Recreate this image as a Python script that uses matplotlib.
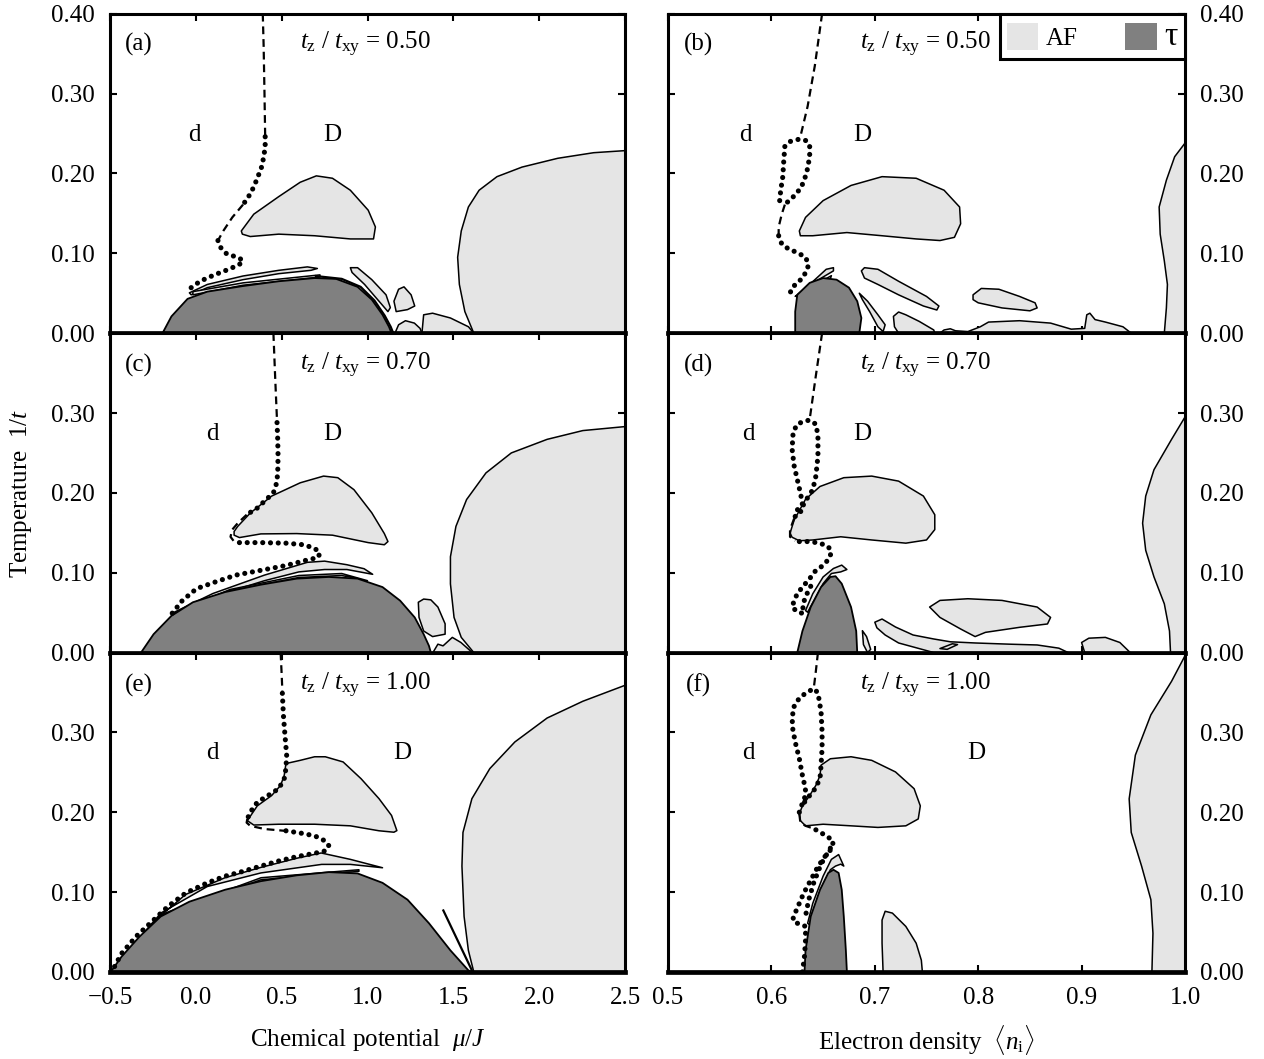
'''
Phase diagrams: AF and tau regions vs chemical potential (left) and electron density (right)
'''
import matplotlib
matplotlib.use("Agg")
import matplotlib.pyplot as plt
from matplotlib.patches import Patch
import numpy as np

plt.rcParams['font.family'] = ['Liberation Serif', 'DejaVu Serif']
plt.rcParams['mathtext.fontset'] = 'custom'
plt.rcParams['mathtext.rm'] = 'Liberation Serif'
plt.rcParams['mathtext.it'] = 'Liberation Serif:italic'

AF_COLOR = '#e5e5e5'
TAU_COLOR = '#808080'
FS = 18

ratios = ['0.50', '0.70', '1.00']
panel_tags = [['(a)', '(b)'], ['(c)', '(d)'], ['(e)', '(f)']]
mu_ticks = [-0.5, 0.0, 0.5, 1.0, 1.5, 2.0, 2.5]
mu_labels = ['\u22120.5', '0.0', '0.5', '1.0', '1.5', '2.0', '2.5']
n_ticks = [0.5, 0.6, 0.7, 0.8, 0.9, 1.0]
n_labels = ['0.5', '0.6', '0.7', '0.8', '0.9', '1.0']
T_ticks = [0.0, 0.1, 0.2, 0.3, 0.4]
T_labels = ['0.00', '0.10', '0.20', '0.30', '0.40']

# ---------------- panel (a) : mu, tz/txy = 0.50
a_dash = [[(0.39, 0.40), (0.395, 0.36), (0.40, 0.30), (0.404, 0.246)],
          [(0.275, 0.161), (0.2125, 0.145), (0.16, 0.128), (0.129, 0.116)]]
a_dots = [[(0.404, 0.246), (0.404, 0.234), (0.396, 0.221), (0.383, 0.208), (0.369, 0.2),
           (0.3375, 0.183), (0.306, 0.1705), (0.275, 0.161)],
          [(0.129, 0.116), (0.146, 0.107), (0.181, 0.099), (0.244, 0.095), (0.275, 0.091),
           (0.254, 0.086), (0.192, 0.08), (0.108, 0.073), (0.025, 0.065), (-0.027, 0.057),
           (-0.042, 0.048)]]
a_tau = [(-0.194, 0), (-0.142, 0.021), (-0.048, 0.043), (0.067, 0.052), (0.275, 0.059),
         (0.483, 0.065), (0.692, 0.069), (0.817, 0.068), (0.942, 0.058), (1.025, 0.042),
         (1.0875, 0.023), (1.125, 0.008), (1.14, 0)]
a_af = [
    [(0.265, 0.128), (0.3375, 0.149), (0.483, 0.171), (0.608, 0.189), (0.702, 0.197),
     (0.796, 0.194), (0.9, 0.179), (1.004, 0.154), (1.046, 0.133), (1.035, 0.118),
     (0.9, 0.118), (0.692, 0.122), (0.483, 0.124), (0.317, 0.121), (0.271, 0.124)],
    [(-0.0375, 0.0505), (0.067, 0.061), (0.275, 0.0716), (0.483, 0.0787), (0.65, 0.083),
     (0.708, 0.081), (0.671, 0.0787), (0.483, 0.0745), (0.275, 0.067), (0.067, 0.057),
     (-0.027, 0.048)],
    [(-0.017, 0.052), (0.275, 0.063), (0.723, 0.073), (0.723, 0.0703), (0.275, 0.06),
     (-0.017, 0.048)],
    [(0.9, 0.082), (0.942, 0.082), (1.025, 0.067), (1.108, 0.048), (1.133, 0.032),
     (1.119, 0.027), (1.067, 0.04), (0.983, 0.061), (0.91, 0.076)],
    [(1.181, 0.055), (1.2125, 0.058), (1.254, 0.048), (1.275, 0.034), (1.233, 0.0295),
     (1.167, 0.027), (1.154, 0.04)],
    [(1.16, 0.0), (1.181, 0.0105), (1.221, 0.0156), (1.273, 0.0126), (1.306, 0.006), (1.317, 0.0)],
    [(1.317, 0.0), (1.327, 0.023), (1.379, 0.025), (1.483, 0.019), (1.588, 0.008), (1.619, 0.0)],
    [(1.619, 0.0), (1.567, 0.027), (1.535, 0.061), (1.525, 0.095), (1.546, 0.128),
     (1.5875, 0.158), (1.65, 0.179), (1.754, 0.196), (1.9, 0.208), (2.108, 0.219),
     (2.317, 0.226), (2.5, 0.2286), (2.5, 0.0)],
]
a_lines = [[(0.70, 0.0715), (0.85, 0.068), (0.96, 0.058), (1.04, 0.041), (1.10, 0.022),
            (1.135, 0.008), (1.15, 0.0)]]

# ---------------- panel (b) : n, tz/txy = 0.50
b_dash = [[(0.649, 0.40), (0.642, 0.335), (0.635, 0.284), (0.628, 0.246)],
          [(0.613, 0.161), (0.61, 0.149), (0.607, 0.133), (0.607, 0.122)]]
b_dots = [[(0.608, 0.166), (0.609, 0.179), (0.611, 0.196), (0.612, 0.217), (0.613, 0.234),
           (0.618, 0.24), (0.627, 0.243), (0.634, 0.241), (0.637, 0.234), (0.637, 0.221),
           (0.634, 0.2), (0.629, 0.183), (0.623, 0.173), (0.617, 0.166), (0.613, 0.161)],
          [(0.607, 0.122), (0.61, 0.1116), (0.617, 0.105), (0.625, 0.101), (0.633, 0.095),
           (0.636, 0.086), (0.634, 0.078), (0.63, 0.069), (0.625, 0.063), (0.62, 0.057),
           (0.618, 0.05)]]
b_tau = [(0.623, 0), (0.623, 0.027), (0.625, 0.048), (0.637, 0.063), (0.65, 0.069),
         (0.663, 0.067), (0.675, 0.057), (0.683, 0.04), (0.687, 0.019), (0.685, 0)]
b_af = [
    [(0.623, 0.046), (0.637, 0.061), (0.653, 0.08), (0.66, 0.082), (0.66, 0.078),
     (0.643, 0.065), (0.627, 0.048)],
    [(0.625, 0.043), (0.64, 0.059), (0.658, 0.072), (0.657, 0.068), (0.642, 0.055), (0.627, 0.042)],
    [(0.627, 0.128), (0.633, 0.145), (0.65, 0.166), (0.677, 0.185), (0.707, 0.196),
     (0.74, 0.194), (0.767, 0.179), (0.782, 0.158), (0.783, 0.137), (0.777, 0.12),
     (0.763, 0.116), (0.74, 0.118), (0.707, 0.122), (0.673, 0.126), (0.64, 0.122), (0.628, 0.122)],
    [(0.687, 0.078), (0.69, 0.082), (0.703, 0.08), (0.723, 0.065), (0.75, 0.046),
     (0.762, 0.034), (0.76, 0.029), (0.747, 0.034), (0.723, 0.048), (0.703, 0.061), (0.69, 0.069)],
    [(0.685, 0.05), (0.693, 0.04), (0.703, 0.023), (0.71, 0.0105), (0.708, 0.002),
     (0.703, 0.008), (0.695, 0.027), (0.688, 0.042)],
    [(0.718, 0.021), (0.723, 0.0265), (0.73, 0.023), (0.743, 0.0147), (0.757, 0.004),
     (0.758, 0), (0.723, 0), (0.719, 0.008)],
    [(0.795, 0.048), (0.803, 0.056), (0.82, 0.055), (0.84, 0.046), (0.855, 0.038),
     (0.857, 0.0316), (0.85, 0.028), (0.823, 0.0316), (0.8, 0.038), (0.795, 0.042)],
    [(0.763, 0), (0.767, 0.004), (0.773, 0.0055), (0.778, 0.003), (0.79, 0.002), (0.802, 0.008),
     (0.81, 0.0139), (0.84, 0.0156), (0.87, 0.0126), (0.89, 0.005), (0.903, 0.006),
     (0.905, 0.023), (0.908, 0.025), (0.913, 0.017), (0.923, 0.0139), (0.94, 0.008), (0.948, 0)],
    [(1.0, 0.238), (0.99, 0.221), (0.982, 0.1916), (0.975, 0.158), (0.976, 0.124),
     (0.98, 0.0905), (0.983, 0.061), (0.982, 0.0316), (0.98, 0), (1.0, 0)],
]
b_lines = []

# ---------------- panel (c) : mu, tz/txy = 0.70
c_dash = [[(0.452, 0.40), (0.4625, 0.343), (0.473, 0.29)],
          [(0.296, 0.1726), (0.244, 0.162), (0.2125, 0.154), (0.202, 0.145), (0.223, 0.139),
           (0.254, 0.1377)]]
c_dots = [[(0.473, 0.288), (0.477, 0.267), (0.479, 0.246), (0.477, 0.225), (0.471, 0.2126),
           (0.452, 0.2), (0.41, 0.1916), (0.358, 0.181), (0.296, 0.1726)],
          [(0.254, 0.1377), (0.379, 0.1377), (0.525, 0.137), (0.629, 0.135), (0.692, 0.1305),
           (0.723, 0.125), (0.7125, 0.119), (0.65, 0.116), (0.525, 0.109), (0.379, 0.103),
           (0.233, 0.097), (0.108, 0.088), (0.004, 0.08), (-0.079, 0.065), (-0.142, 0.048)]]
c_tau = [(-0.319, 0), (-0.246, 0.023), (-0.142, 0.046), (-0.017, 0.063), (0.171, 0.0758),
         (0.379, 0.085), (0.5875, 0.0926), (0.775, 0.0947), (0.942, 0.0926), (1.0875, 0.082),
         (1.19, 0.065), (1.275, 0.044), (1.327, 0.023), (1.358, 0.0084), (1.369, 0)]
c_af = [
    [(-0.14, 0.049), (0.1, 0.074), (0.4, 0.097), (0.65, 0.113), (0.75, 0.1145), (0.88, 0.11),
     (0.98, 0.105), (1.03, 0.098), (0.98, 0.1), (0.88, 0.104), (0.75, 0.104), (0.6, 0.101),
     (0.4, 0.09), (0.1, 0.07), (-0.14, 0.047)],
    [(-0.12, 0.05), (0.2, 0.079), (0.6, 0.0965), (0.85, 0.099), (1.0, 0.09), (0.85, 0.0965),
     (0.6, 0.094), (0.2, 0.077), (-0.12, 0.048)],
    [(0.223, 0.1516), (0.244, 0.158), (0.317, 0.1747), (0.442, 0.196), (0.608, 0.2126),
     (0.744, 0.221), (0.827, 0.219), (0.921, 0.204), (1.025, 0.175), (1.098, 0.149),
     (1.119, 0.139), (1.098, 0.135), (1.004, 0.1377), (0.796, 0.147), (0.5875, 0.149),
     (0.379, 0.1486), (0.254, 0.144), (0.223, 0.147)],
    [(1.296, 0.063), (1.327, 0.067), (1.369, 0.066), (1.41, 0.057), (1.452, 0.036),
     (1.452, 0.023), (1.379, 0.02), (1.327, 0.027), (1.3, 0.044)],
    [(1.381, 0), (1.41, 0.0105), (1.44, 0.0084), (1.494, 0.019), (1.544, 0.0126),
     (1.6, 0.002), (1.619, 0)],
    [(1.619, 0), (1.546, 0.019), (1.504, 0.044), (1.483, 0.086), (1.483, 0.12), (1.515, 0.158),
     (1.577, 0.1916), (1.69, 0.225), (1.8375, 0.25), (2.046, 0.267), (2.254, 0.278),
     (2.5, 0.283), (2.5, 0)],
]
c_lines = []

# ---------------- panel (d) : n, tz/txy = 0.70
d_dash = [[(0.649, 0.40), (0.643, 0.347), (0.637, 0.292)],
          [(0.622, 0.168), (0.618, 0.154), (0.618, 0.145), (0.623, 0.14)]]
d_dots = [[(0.623, 0.1705), (0.628, 0.1747), (0.63, 0.187), (0.628, 0.2), (0.625, 0.2168),
           (0.622, 0.2337), (0.62, 0.2547), (0.621, 0.276), (0.625, 0.286), (0.632, 0.29),
           (0.637, 0.291), (0.643, 0.286), (0.645, 0.2716), (0.645, 0.246), (0.643, 0.221),
           (0.64, 0.204), (0.635, 0.194), (0.63, 0.183), (0.623, 0.177)],
          [(0.627, 0.139), (0.637, 0.139), (0.647, 0.137), (0.655, 0.1326), (0.658, 0.126),
           (0.656, 0.118), (0.65, 0.109), (0.643, 0.103), (0.637, 0.0926), (0.63, 0.082),
           (0.625, 0.0737), (0.622, 0.065), (0.62, 0.057), (0.625, 0.051), (0.633, 0.048)],
          [(0.638, 0.083), (0.633, 0.07), (0.63, 0.058), (0.632, 0.05)]]
d_tau = [(0.625, 0), (0.63, 0.027), (0.638, 0.057), (0.648, 0.082), (0.657, 0.0947),
         (0.662, 0.0956), (0.668, 0.0863), (0.677, 0.057), (0.682, 0.027), (0.683, 0)]
d_af = [
    [(0.633, 0.0526), (0.64, 0.0737), (0.65, 0.0947), (0.66, 0.1053), (0.668, 0.1095),
     (0.673, 0.104), (0.667, 0.101), (0.658, 0.099), (0.65, 0.0863), (0.642, 0.067), (0.635, 0.0505)],
    [(0.618, 0.1495), (0.622, 0.166), (0.633, 0.192), (0.647, 0.208), (0.67, 0.219),
     (0.697, 0.221), (0.723, 0.2147), (0.747, 0.196), (0.758, 0.1726), (0.758, 0.154),
     (0.75, 0.141), (0.73, 0.137), (0.697, 0.141), (0.667, 0.145), (0.64, 0.141),
     (0.627, 0.14), (0.62, 0.1444)],
    [(0.7, 0.038), (0.707, 0.042), (0.72, 0.032), (0.737, 0.022), (0.757, 0.017),
     (0.773, 0.0135), (0.797, 0.012), (0.83, 0.0105), (0.857, 0.0095), (0.878, 0.0055),
     (0.887, 0), (0.757, 0), (0.74, 0.006), (0.723, 0.012), (0.71, 0.022), (0.702, 0.031)],
    [(0.763, 0.005), (0.775, 0.011), (0.78, 0.01), (0.77, 0.004)],
    [(0.688, 0.0274), (0.692, 0.02), (0.696, 0.004), (0.693, 0), (0.689, 0.01)],
    [(0.753, 0.057), (0.763, 0.0653), (0.79, 0.0674), (0.823, 0.0653), (0.857, 0.057),
     (0.87, 0.044), (0.867, 0.0358), (0.84, 0.0316), (0.807, 0.0253), (0.797, 0.02),
     (0.783, 0.0295), (0.763, 0.044)],
    [(0.903, 0), (0.9, 0.0126), (0.907, 0.018), (0.923, 0.019), (0.937, 0.0126), (0.947, 0)],
    [(1.0, 0.295), (0.987, 0.267), (0.97, 0.229), (0.962, 0.196), (0.959, 0.162),
     (0.962, 0.128), (0.97, 0.0947), (0.98, 0.061), (0.985, 0.027), (0.986, 0), (1.0, 0)],
]
d_lines = []

# ---------------- panel (e) : mu, tz/txy = 1.00
e_dash = [[(0.494, 0.40), (0.5, 0.373), (0.504, 0.352)],
          [(0.3, 0.1916), (0.296, 0.187), (0.317, 0.183), (0.4, 0.179), (0.515, 0.1768)]]
e_dots = [[(0.504, 0.349), (0.51, 0.322), (0.519, 0.297), (0.529, 0.2716), (0.525, 0.255),
           (0.515, 0.242), (0.483, 0.2295), (0.421, 0.221), (0.358, 0.2126), (0.317, 0.2),
           (0.3, 0.1916)],
          [(0.525, 0.1768), (0.608, 0.174), (0.692, 0.1705), (0.754, 0.164), (0.775, 0.158),
           (0.754, 0.1516), (0.692, 0.1486), (0.5875, 0.1444), (0.483, 0.139), (0.379, 0.1326),
           (0.275, 0.126), (0.171, 0.12), (0.067, 0.1116), (-0.058, 0.099), (-0.1625, 0.082),
           (-0.246, 0.065), (-0.35, 0.044), (-0.433, 0.023), (-0.485, 0.002)]]
e_tau = [(-0.496, 0), (-0.433, 0.019), (-0.329, 0.044), (-0.204, 0.0695), (-0.0375, 0.088),
         (0.171, 0.103), (0.379, 0.1137), (0.5875, 0.121), (0.775, 0.125), (0.942, 0.1234),
         (1.0875, 0.1116), (1.233, 0.0905), (1.358, 0.061), (1.483, 0.027), (1.5875, 0.002),
         (1.608, 0)]
e_af = [
    [(-0.48, 0.004), (-0.25, 0.062), (-0.06, 0.097), (0.17, 0.118), (0.38, 0.131),
     (0.59, 0.1425), (0.73, 0.149), (0.9, 0.141), (1.0875, 0.1305), (0.9, 0.1347),
     (0.733, 0.1347), (0.379, 0.124), (0.067, 0.107), (-0.204, 0.0737), (-0.48, 0.002)],
    [(-0.2, 0.072), (0.38, 0.118), (0.95, 0.128), (0.95, 0.126), (0.38, 0.1155), (-0.2, 0.0705)],
    [(0.525, 0.261), (0.608, 0.265), (0.692, 0.2695), (0.754, 0.2695), (0.858, 0.263),
     (0.9625, 0.242), (1.067, 0.217), (1.14, 0.196), (1.171, 0.177), (1.154, 0.175),
     (1.067, 0.1768), (0.9, 0.183), (0.692, 0.185), (0.483, 0.185), (0.3375, 0.184),
     (0.3, 0.1895), (0.358, 0.208), (0.442, 0.221), (0.494, 0.2337), (0.515, 0.2463)],
    [(1.619, 0), (1.5875, 0.027), (1.5625, 0.0695), (1.55, 0.1326), (1.556, 0.1747),
     (1.608, 0.217), (1.7125, 0.2547), (1.858, 0.288), (2.046, 0.318), (2.254, 0.339),
     (2.5, 0.359), (2.5, 0)],
]
e_lines = [[(1.4417, 0.077), (1.608, 0.002)]]

# ---------------- panel (f) : n, tz/txy = 1.00
f_dash = [[(0.645, 0.40), (0.643, 0.377), (0.641, 0.3558)],
          [(0.627, 0.198), (0.628, 0.187), (0.633, 0.183), (0.642, 0.179)]]
f_dots = [[(0.627, 0.2), (0.629, 0.208), (0.632, 0.2168), (0.633, 0.229), (0.63, 0.246),
           (0.627, 0.267), (0.623, 0.288), (0.62, 0.309), (0.621, 0.3305), (0.627, 0.343),
           (0.633, 0.349), (0.641, 0.355), (0.645, 0.3495), (0.648, 0.326), (0.649, 0.301),
           (0.649, 0.28), (0.648, 0.259), (0.647, 0.242), (0.642, 0.229), (0.637, 0.221),
           (0.632, 0.2126)],
          [(0.643, 0.178), (0.653, 0.1705), (0.66, 0.164), (0.658, 0.154), (0.652, 0.145),
           (0.645, 0.132), (0.638, 0.115), (0.631, 0.098), (0.625, 0.08), (0.621, 0.068),
           (0.622, 0.062), (0.628, 0.06), (0.633, 0.057), (0.633, 0.04), (0.632, 0.02), (0.63, 0.0)],
          [(0.657, 0.155), (0.648, 0.135), (0.641, 0.112), (0.636, 0.09), (0.633, 0.07)]]
f_tau = [(0.632, 0), (0.633, 0.027), (0.638, 0.0695), (0.647, 0.103), (0.655, 0.124),
         (0.66, 0.128), (0.665, 0.124), (0.668, 0.103), (0.67, 0.0695), (0.672, 0.027), (0.673, 0)]
f_af = [
    [(0.635, 0.061), (0.64, 0.086), (0.65, 0.12), (0.658, 0.141), (0.665, 0.147),
     (0.67, 0.1326), (0.667, 0.135), (0.662, 0.1326), (0.657, 0.128), (0.648, 0.103),
     (0.642, 0.078), (0.637, 0.059)],
    [(0.648, 0.259), (0.657, 0.267), (0.677, 0.2695), (0.697, 0.265), (0.72, 0.2505),
     (0.738, 0.2295), (0.744, 0.208), (0.742, 0.1916), (0.73, 0.183), (0.703, 0.181),
     (0.677, 0.183), (0.65, 0.185), (0.633, 0.183), (0.628, 0.1895), (0.627, 0.198),
     (0.63, 0.208), (0.637, 0.221), (0.643, 0.2337), (0.647, 0.246)],
    [(0.708, 0), (0.707, 0.036), (0.707, 0.065), (0.71, 0.076), (0.717, 0.0737),
     (0.73, 0.057), (0.74, 0.036), (0.745, 0.0147), (0.746, 0)],
    [(1.0, 0.396), (0.987, 0.364), (0.967, 0.322), (0.952, 0.2716), (0.946, 0.2168),
     (0.948, 0.1747), (0.958, 0.1326), (0.967, 0.0905), (0.969, 0.0484), (0.968, 0), (1.0, 0)],
]
f_lines = []

# text positions of the phase letters d / D (x, T)
d_pos = [[(-0.006, 0.248), (0.575, 0.248)], [(0.098, 0.274), (0.578, 0.274)], [(0.098, 0.274), (0.578, 0.274)]]
D_pos = [[(0.796, 0.248), (0.688, 0.248)], [(0.796, 0.274), (0.688, 0.274)], [(1.202, 0.274), (0.798, 0.274)]]

panels = [[(a_af, a_tau, a_dash, a_dots, a_lines), (b_af, b_tau, b_dash, b_dots, b_lines)],
          [(c_af, c_tau, c_dash, c_dots, c_lines), (d_af, d_tau, d_dash, d_dots, d_lines)],
          [(e_af, e_tau, e_dash, e_dots, e_lines), (f_af, f_tau, f_dash, f_dots, f_lines)]]


def xy(pts):
    arr = np.array(pts)
    return arr[:, 0], arr[:, 1]


fig = plt.figure(figsize=(12.64, 10.59), dpi=100)
H = 0.3016
lefts = [0.087, 0.5285]
widths = [0.4075, 0.409]

for r in range(3):
    for c in range(2):
        ax = fig.add_axes([lefts[c], 0.0822 + (2 - r) * H, widths[c], H])
        af, tau, dash, dots, lines = panels[r][c]
        for poly in af:
            x, y = xy(poly)
            ax.fill(x, y, facecolor=AF_COLOR, edgecolor='k', lw=1.1, joinstyle='round', zorder=2)
        x, y = xy(tau)
        ax.fill(x, y, facecolor=TAU_COLOR, edgecolor='k', lw=1.3, joinstyle='round', zorder=2)
        for seg in lines:
            x, y = xy(seg)
            ax.plot(x, y, color='k', lw=1.6, zorder=3)
        for seg in dash:
            x, y = xy(seg)
            ax.plot(x, y, color='k', lw=1.6, linestyle=(0, (3.5, 2.2)), zorder=4)
        for seg in dots:
            x, y = xy(seg)
            ax.plot(x, y, color='k', lw=3.7, linestyle=(0, (0.01, 1.5)),
                    dash_capstyle='round', zorder=4)

        if c == 0:
            ax.set_xlim(-0.5, 2.5)
            ax.set_xticks(mu_ticks)
            ax.set_xticklabels(mu_labels)
            xtag, xrat = -0.33, 0.99
        else:
            ax.set_xlim(0.5, 1.0)
            ax.set_xticks(n_ticks)
            ax.set_xticklabels(n_labels)
            xtag, xrat = 0.529, 0.749
        ax.set_ylim(0, 0.4)
        ax.set_yticks(T_ticks)
        if r == 0:
            ax.set_yticklabels(T_labels)
        else:
            ax.set_yticklabels(T_labels[:4] + [''])

        ax.tick_params(direction='in', top=True, right=True, length=5, width=1.5,
                       labelsize=FS, pad=11,
                       labelbottom=(r == 2), labelleft=(c == 0), labelright=(c == 1))
        for s in ['top', 'left', 'right']:
            ax.spines[s].set_linewidth(2.2)
        ax.spines['bottom'].set_linewidth(3.4)

        ty = 0.362 if r == 0 else 0.359
        ax.text(xtag, ty, panel_tags[r][c], fontsize=FS, ha='center', va='center')
        ax.text(xrat, ty, r'$t_\mathrm{z}\ /\ t_\mathrm{xy}$ = ' + ratios[r], fontsize=FS,
                ha='center', va='center')
        ax.text(d_pos[r][c][0], d_pos[r][c][1], 'd', fontsize=FS, ha='center', va='center')
        ax.text(D_pos[r][c][0], D_pos[r][c][1], 'D', fontsize=FS, ha='center', va='center')

        if r == 0 and c == 1:
            handles = [Patch(facecolor=AF_COLOR, edgecolor='none'),
                       Patch(facecolor=TAU_COLOR, edgecolor='none')]
            leg = ax.legend(handles, ['AF', '\u03c4'], loc='upper right', ncol=2,
                            fontsize=FS, frameon=True, fancybox=False, framealpha=1,
                            borderaxespad=0, handlelength=1.25, handleheight=1.25,
                            handletextpad=0.3, columnspacing=1.9, borderpad=0.3)
            leg.get_frame().set_edgecolor('k')
            leg.get_frame().set_linewidth(2.2)
            leg.get_texts()[1].set_fontsize(24)
            leg.set_zorder(10)

fig.text(0.017, 0.5345, 'Temperature  1/$t$', rotation=90, fontsize=FS, ha='center', va='center')
fig.text(0.291, 0.018, r'Chemical potential  $\mu/J$', fontsize=FS, ha='center', va='center')
fig.text(0.7325, 0.018, r'Electron density  $\langle n_\mathrm{i}\rangle$', fontsize=FS,
         ha='center', va='center')

fig.savefig('out.png', dpi=100)
